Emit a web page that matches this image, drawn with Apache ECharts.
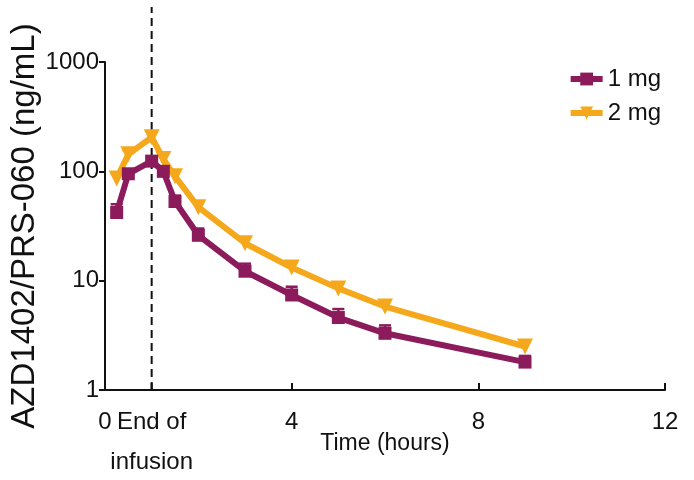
<!DOCTYPE html>
<html>
<head>
<meta charset="utf-8">
<script src="https://cdn.jsdelivr.net/npm/echarts@6/dist/echarts.min.js"></script>
<style>
  html, body { margin: 0; padding: 0; background: #fff; }
  #chart { width: 694px; height: 480px; }
</style>
</head>
<body>
<div id="chart"></div>
<script>
// time points (hours)
var times = [0.25, 0.5, 1, 1.25, 1.5, 2, 3, 4, 5, 6, 9];
// mean concentration, ng/mL
var dose1mg = [42, 95, 124, 100, 53, 26, 12.2, 7.4, 4.6, 3.3, 1.8];
var dose2mg = [86, 143, 205, 130, 90, 47, 22, 13.2, 8.5, 5.8, 2.5];
// top of error bar
var upper1mg = [50, 104, 134, 110, 60, 30, 14.3, 8.8, 5.5, 3.9, 2.05];
var upper2mg = [96, 156, 232, 146, 100, 53, 25, 14.8, 9.5, 6.5, 2.75];
var xTicks = [0, 4, 8, 12];
var infusionEnd = 1;
var infusionLabel = 'End of\ninfusion';

var purple = '#8c1b5c';
var orange = '#f5a81c';
var font = '"Liberation Sans", Arial, sans-serif';

function pairs(xs, ys) {
    return xs.map(function (x, i) { return [x, ys[i]]; });
}

function errorBars(color) {
    return function (params, api) {
        var lo = api.coord([api.value(0), api.value(1)]);
        var hi = api.coord([api.value(0), api.value(2)]);
        return {
            type: 'group',
            children: [{
                type: 'line',
                shape: { x1: lo[0], y1: lo[1], x2: hi[0], y2: hi[1] },
                style: { stroke: color, lineWidth: 2.5 }
            }, {
                type: 'line',
                shape: { x1: hi[0] - 6, y1: hi[1], x2: hi[0] + 6, y2: hi[1] },
                style: { stroke: color, lineWidth: 2.5 }
            }]
        };
    };
}

var chart = echarts.init(document.getElementById('chart'));

var option = {
    animation: false,
    grid: { left: 105, right: 29, top: 62, bottom: 90, outerBoundsMode: 'none', containLabel: false },
    legend: {
        right: 28, top: 62,
        orient: 'vertical',
        itemWidth: 32, itemHeight: 16, itemGap: 10,
        data: ['1 mg', '2 mg'],
        lineStyle: { width: 6 },
        textStyle: { fontFamily: font, fontSize: 24, color: '#111' }
    },
    xAxis: {
        type: 'value', min: 0, max: 12, interval: 4,
        name: 'Time (hours)', nameLocation: 'middle', nameGap: 42, nameMoveOverlap: false,
        nameTextStyle: { fontFamily: font, fontSize: 23, color: '#111' },
        axisLine: { lineStyle: { color: '#111', width: 2 } },
        axisTick: { inside: true, length: 7, lineStyle: { color: '#111', width: 2 } },
        axisLabel: {
            showMinLabel: true, showMaxLabel: true,
            fontFamily: font, fontSize: 24, color: '#111', margin: 20
        },
        splitLine: { show: false }
    },
    yAxis: {
        type: 'log', logBase: 10, min: 1, max: 1000,
        name: 'AZD1402/PRS-060 (ng/mL)', nameLocation: 'middle', nameGap: 64, nameMoveOverlap: false,
        nameTextStyle: { fontFamily: font, fontSize: 33, color: '#111' },
        axisLine: { show: true, lineStyle: { color: '#111', width: 2 } },
        axisTick: { show: true, length: 6, lineStyle: { color: '#111', width: 2 } },
        axisLabel: {
            fontFamily: font, fontSize: 24, color: '#111', margin: 6, showMinLabel: true,
            formatter: function (v) { return String(v); }
        },
        minorTick: { show: false },
        splitLine: { show: false }
    },
    series: [{
        // end-of-infusion marker: dashed line, axis tick and label
        type: 'custom',
        silent: true,
        clip: false,
        data: [[infusionEnd, 1]],
        renderItem: function (params, api) {
            var p = api.coord([api.value(0), api.value(1)]);
            return {
                type: 'group',
                children: [{
                    type: 'line',
                    shape: { x1: p[0], y1: p[1], x2: p[0], y2: params.coordSys.y - 55 },
                    style: { stroke: '#111', lineWidth: 2, lineDash: [8, 5] }
                }, {
                    type: 'line',
                    shape: { x1: p[0], y1: p[1], x2: p[0], y2: p[1] - 7 },
                    style: { stroke: '#111', lineWidth: 2 }
                }, {
                    type: 'text',
                    x: p[0], y: p[1] + 12,
                    style: {
                        text: infusionLabel, align: 'center', verticalAlign: 'top',
                        font: '24px ' + font, lineHeight: 40, fill: '#111'
                    }
                }]
            };
        },
        z: 1
    }, {
        name: '2 mg error', type: 'custom', silent: true,
        data: times.map(function (t, i) { return [t, dose2mg[i], upper2mg[i]]; }),
        renderItem: errorBars(orange), z: 2
    }, {
        name: '2 mg', type: 'line',
        data: pairs(times, dose2mg),
        symbol: 'triangle', symbolRotate: 180, symbolSize: 16,
        lineStyle: { color: orange, width: 6 },
        itemStyle: { color: orange },
        z: 3
    }, {
        name: '1 mg error', type: 'custom', silent: true,
        data: times.map(function (t, i) { return [t, dose1mg[i], upper1mg[i]]; }),
        renderItem: errorBars(purple), z: 4
    }, {
        name: '1 mg', type: 'line',
        data: pairs(times, dose1mg),
        symbol: 'rect', symbolSize: 13,
        lineStyle: { color: purple, width: 6 },
        itemStyle: { color: purple },
        z: 5
    }]
};

chart.setOption(option);
</script>
</body>
</html>
